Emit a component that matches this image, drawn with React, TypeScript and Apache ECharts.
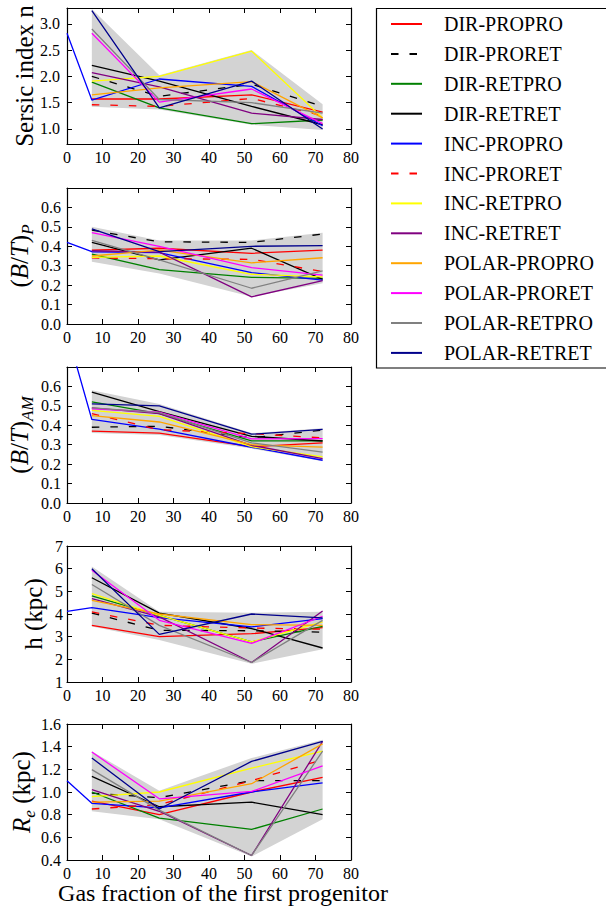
import React, { useEffect, useRef } from 'react';
import * as echarts from 'echarts';

const FONT = "'Liberation Serif', 'Times New Roman', serif";

const NAMES = [
  'DIR-PROPRO', 'DIR-PRORET', 'DIR-RETPRO', 'DIR-RETRET',
  'INC-PROPRO', 'INC-PRORET', 'INC-RETPRO', 'INC-RETRET',
  'POLAR-PROPRO', 'POLAR-PRORET', 'POLAR-RETPRO', 'POLAR-RETRET',
];
const COLORS = [
  '#ff0000', '#000000', '#008000', '#000000',
  '#0000ff', '#ff0000', '#ffff00', '#800080',
  '#ffa500', '#ff00ff', '#808080', '#00008b',
];
const DASHED = [false, true, false, false, false, true, false, false, false, false, false, false];

// gas fraction of the first progenitor (x positions)
const GAS_FRACTION = [7, 26, 52, 72];
// INC-PROPRO has an extra point at gas fraction 0
const EXTRA_X = 0;
const incProproAtZero = [2.82, 0.42, 0.88, 4.12, 1.10];

// Panel 1: Sersic index n
const sersicN = [
  [1.57, 1.57, 1.65, 1.32],
  [2.00, 1.62, 1.85, 1.43],
  [1.89, 1.40, 1.10, 1.17],
  [2.21, 1.91, 1.43, 1.08],
  [1.55, 1.95, 1.81, 1.06],
  [1.46, 1.43, 1.58, 1.25],
  [1.91, 2.00, 2.48, 1.21],
  [2.07, 1.80, 1.30, 1.18],
  [1.65, 1.78, 1.90, 1.21],
  [2.82, 1.51, 1.76, 1.10],
  [2.90, 1.56, 1.50, 1.30],
  [3.25, 1.40, 1.91, 1.00],
];
const sersicBandLow = [1.42, 1.37, 1.08, 0.98];
const sersicBandHigh = [3.28, 2.02, 2.50, 1.47];

// Panel 2: (B/T)_P
const btP = [
  [0.380, 0.390, 0.364, 0.380],
  [0.483, 0.423, 0.420, 0.463],
  [0.360, 0.280, 0.240, 0.235],
  [0.420, 0.330, 0.390, 0.230],
  [0.372, 0.367, 0.264, 0.226],
  [0.340, 0.336, 0.333, 0.270],
  [0.343, 0.350, 0.256, 0.243],
  [0.377, 0.370, 0.140, 0.223],
  [0.350, 0.380, 0.315, 0.341],
  [0.470, 0.400, 0.290, 0.252],
  [0.430, 0.330, 0.184, 0.274],
  [0.490, 0.372, 0.400, 0.403],
];
const btPBandLow = [0.32, 0.26, 0.14, 0.21];
const btPBandHigh = [0.50, 0.43, 0.43, 0.47];

// Panel 3: (B/T)_AM
const btAM = [
  [0.370, 0.360, 0.290, 0.309],
  [0.390, 0.395, 0.336, 0.375],
  [0.520, 0.460, 0.320, 0.320],
  [0.571, 0.470, 0.343, 0.319],
  [0.430, 0.380, 0.287, 0.220],
  [0.460, 0.377, 0.357, 0.335],
  [0.477, 0.446, 0.290, 0.237],
  [0.490, 0.460, 0.297, 0.228],
  [0.450, 0.417, 0.300, 0.288],
  [0.485, 0.468, 0.330, 0.331],
  [0.490, 0.465, 0.310, 0.262],
  [0.510, 0.500, 0.354, 0.379],
];
const btAMBandLow = [0.36, 0.35, 0.28, 0.215];
const btAMBandHigh = [0.58, 0.51, 0.36, 0.385];

// Panel 4: h (kpc)
const scaleH = [
  [3.50, 3.00, 3.13, 3.40],
  [4.04, 3.28, 3.26, 3.20],
  [4.80, 3.94, 2.77, 3.45],
  [5.60, 4.04, 3.36, 2.50],
  [4.28, 3.84, 3.43, 3.80],
  [4.09, 3.50, 3.38, 3.33],
  [4.90, 3.94, 2.77, 3.65],
  [4.68, 3.87, 1.86, 4.13],
  [4.60, 4.00, 3.53, 3.50],
  [5.93, 3.72, 2.70, 3.90],
  [5.30, 3.50, 1.86, 3.72],
  [6.00, 3.10, 4.00, 3.83],
];
const scaleHBandLow = [3.45, 2.85, 1.80, 2.45];
const scaleHBandHigh = [6.10, 4.10, 4.05, 4.10];

// Panel 5: R_e (kpc)
const effR = [
  [0.920, 0.800, 1.000, 1.130],
  [0.990, 0.950, 1.100, 1.100],
  [1.000, 0.770, 0.670, 0.850],
  [1.138, 0.870, 0.910, 0.800],
  [0.900, 0.860, 1.000, 1.080],
  [0.850, 0.890, 1.100, 1.285],
  [0.960, 1.000, 1.210, 1.360],
  [1.020, 0.830, 0.440, 1.447],
  [0.910, 0.920, 1.073, 1.425],
  [1.353, 0.940, 1.005, 1.230],
  [1.197, 0.840, 0.440, 1.360],
  [1.300, 0.850, 1.270, 1.447],
];
const effRBandLow = [0.83, 0.76, 0.43, 0.76];
const effRBandHigh = [1.36, 1.01, 1.30, 1.46];

const X_TICKS_MIN = 0;
const X_TICKS_MAX = 80;
const sersicTicks = [1.0, 1.5, 2.0, 2.5, 3.0];
const btTicks = [0.0, 0.1, 0.2, 0.3, 0.4, 0.5, 0.6];
const hTicks = [1, 2, 3, 4, 5, 6, 7];
const reTicks = [0.4, 0.6, 0.8, 1.0, 1.2, 1.4, 1.6];

const PANELS = [
  { vals: sersicN, zero: incProproAtZero[0], low: sersicBandLow, high: sersicBandHigh, min: 0.714, max: 3.3, ticks: sersicTicks, dec: 1, margin: 7 },
  { vals: btP, zero: incProproAtZero[1], low: btPBandLow, high: btPBandHigh, min: 0, max: 0.7, ticks: btTicks, dec: 1, margin: 6 },
  { vals: btAM, zero: incProproAtZero[2], low: btAMBandLow, high: btAMBandHigh, min: 0, max: 0.7, ticks: btTicks, dec: 1, margin: 6 },
  { vals: scaleH, zero: incProproAtZero[3], low: scaleHBandLow, high: scaleHBandHigh, min: 1, max: 7, ticks: hTicks, dec: 0, margin: 4 },
  { vals: effR, zero: incProproAtZero[4], low: effRBandLow, high: effRBandHigh, min: 0.4, max: 1.6, ticks: reTicks, dec: 1, margin: 6 },
];

const GRID_TOPS = [8, 188, 367, 546, 724];
const GRID_LEFT = 67;
const GRID_W = 284;
const GRID_H = 136;

function buildOption() {
  const grid: any[] = [];
  const xAxis: any[] = [];
  const yAxis: any[] = [];
  const series: any[] = [];
  const axisLine = { show: true, onZero: false, lineStyle: { color: '#000', width: 1.2 } };

  PANELS.forEach((p, i) => {
    grid.push({ left: GRID_LEFT, top: GRID_TOPS[i], width: GRID_W, height: GRID_H, containLabel: false });
    const xBase = {
      type: 'value', gridIndex: i, min: X_TICKS_MIN, max: X_TICKS_MAX, interval: 10,
      axisLine, splitLine: { show: false },
      axisTick: { show: true, inside: true, length: 5, lineStyle: { color: '#000', width: 1 } },
    };
    xAxis.push({
      ...xBase, position: 'bottom',
      axisLabel: { show: true, margin: 5, fontSize: 16, color: '#000', fontFamily: FONT, showMinLabel: true, showMaxLabel: true },
    });
    xAxis.push({ ...xBase, position: 'top', axisLabel: { show: false } });
    const yBase = {
      type: 'value', gridIndex: i, min: p.min, max: p.max,
      axisLine, splitLine: { show: false },
      axisTick: { show: true, inside: true, length: 5, customValues: p.ticks, lineStyle: { color: '#000', width: 1 } },
    };
    yAxis.push({
      ...yBase, position: 'left',
      axisLabel: {
        show: true, customValues: p.ticks, margin: p.margin, fontSize: 16, color: '#000', fontFamily: FONT,
        formatter: (v: number) => v.toFixed(p.dec),
      },
    });
    yAxis.push({ ...yBase, position: 'right', axisLabel: { show: false } });

    const low = p.low;
    const high = p.high;
    series.push({
      type: 'custom', xAxisIndex: 2 * i, yAxisIndex: 2 * i, z: 1, silent: true,
      data: [[GAS_FRACTION[0], low[0]]],
      renderItem: (_params: any, api: any) => {
        const pts: number[][] = [];
        for (let j = 0; j < GAS_FRACTION.length; j++) pts.push(api.coord([GAS_FRACTION[j], high[j]]));
        for (let j = GAS_FRACTION.length - 1; j >= 0; j--) pts.push(api.coord([GAS_FRACTION[j], low[j]]));
        return { type: 'polygon', shape: { points: pts }, style: { fill: '#d3d3d3', stroke: 'none' } };
      },
    });

    p.vals.forEach((vals, k) => {
      const data: number[][] = GAS_FRACTION.map((x, j) => [x, vals[j]]);
      if (k === 4) data.unshift([EXTRA_X, p.zero]);
      series.push({
        type: 'line', name: NAMES[k], xAxisIndex: 2 * i, yAxisIndex: 2 * i, z: 2,
        data, symbol: 'none', showSymbol: false, clip: true, color: COLORS[k],
        lineStyle: { color: COLORS[k], width: 1.3, type: DASHED[k] ? [7.5, 11] : 'solid' },
        itemStyle: { color: COLORS[k] },
      });
    });
  });

  const subRich = {
    n: { fontFamily: FONT, fontSize: 25, lineHeight: 34, color: '#000' },
    i: { fontFamily: FONT, fontSize: 25, lineHeight: 34, fontStyle: 'italic', color: '#000' },
    s: { fontFamily: FONT, fontSize: 17, lineHeight: 17, fontStyle: 'italic', color: '#000', verticalAlign: 'bottom' },
  };
  const yLabel = (text: string, x: number, i: number) => ({
    type: 'text', x, y: GRID_TOPS[i] + GRID_H / 2, rotation: Math.PI / 2, z: 10,
    style: { text, rich: subRich, fontFamily: FONT, fontSize: 25, fill: '#000', align: 'center', verticalAlign: 'middle' },
  });

  const graphic: any[] = [
    {
      type: 'rect', z: 0, shape: { x: 376.5, y: 8.5, width: 260, height: 359.5 },
      style: { fill: '#fff', stroke: '#000', lineWidth: 1.2 },
    },
    yLabel('{n|Sersic index n}', 24, 0),
    yLabel('{n|(}{i|B}{n|/}{i|T}{n|)}{s|P}', 19, 1),
    yLabel('{n|(}{i|B}{n|/}{i|T}{n|)}{s|AM}', 19, 2),
    yLabel('{n|h (kpc)}', 33, 3),
    yLabel('{i|R}{s|e}{n| (kpc)}', 21, 4),
    {
      type: 'text', x: 223, y: 893, z: 10,
      style: { text: 'Gas fraction of the first progenitor', fontFamily: FONT, fontSize: 24, fill: '#000', align: 'center', verticalAlign: 'middle' },
    },
  ];

  return {
    animation: false,
    backgroundColor: '#fff',
    textStyle: { fontFamily: FONT },
    grid, xAxis, yAxis, series, graphic,
    legend: {
      data: NAMES, orient: 'vertical', left: 385, top: 9, itemWidth: 31, itemHeight: 20, itemGap: 9.9,
      selectedMode: false, z: 5,
      itemStyle: { opacity: 0, borderWidth: 0 },
      textStyle: { fontFamily: FONT, fontSize: 20, color: '#000', lineHeight: 20, padding: [0, 0, 0, 17] },
    },
  };
}

export default function App() {
  const ref = useRef<HTMLDivElement>(null);
  useEffect(() => {
    if (!ref.current) return;
    const chart = echarts.init(ref.current, null, { renderer: 'svg' });
    chart.setOption(buildOption() as any);
    return () => chart.dispose();
  }, []);
  return <div ref={ref} style={{ position: 'absolute', left: 0, top: 0, width: 606, height: 912 }} />;
}
